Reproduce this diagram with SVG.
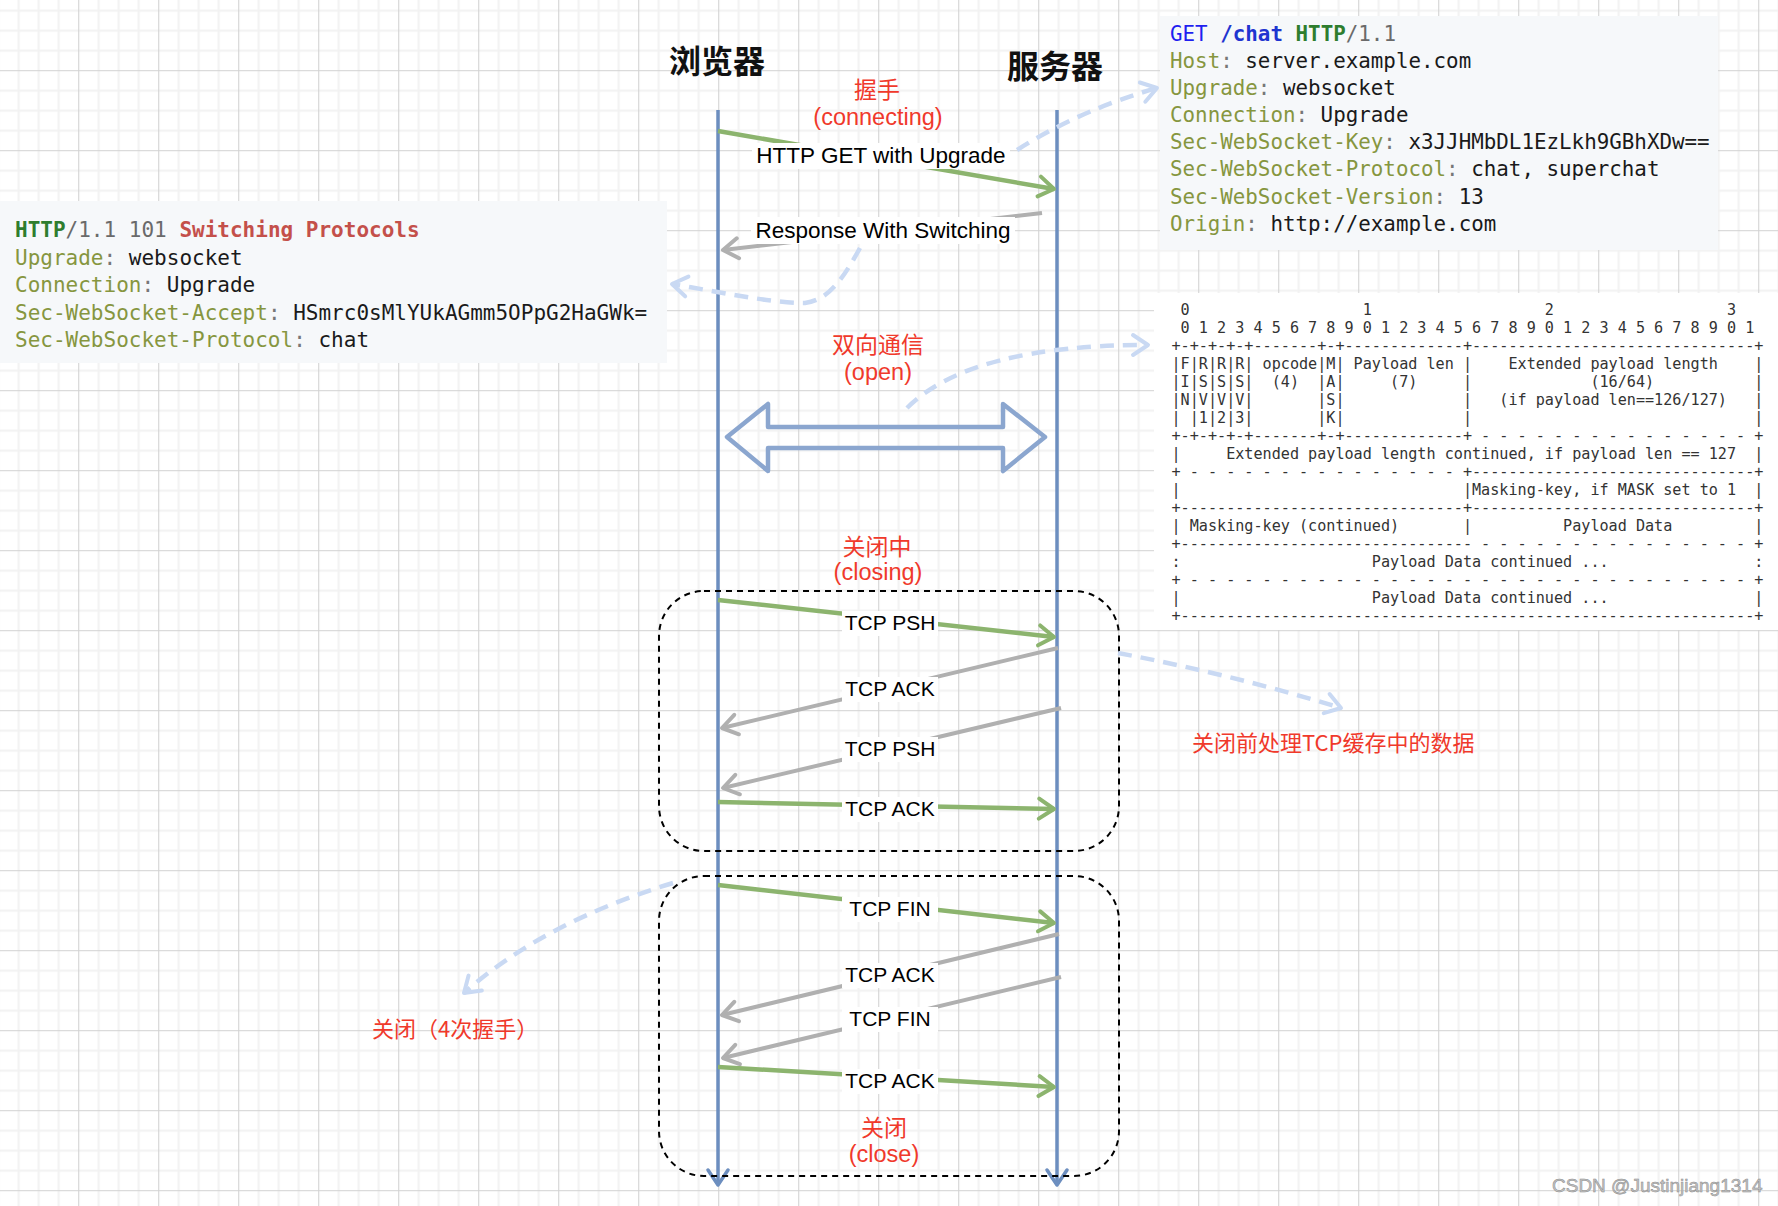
<svg xmlns="http://www.w3.org/2000/svg" width="1778" height="1206" viewBox="0 0 1778 1206">
<defs>
<pattern id="grid" patternUnits="userSpaceOnUse" x="-1.8" y="-9.8" width="80" height="80">
<path d="M20.5,0V80M40.5,0V80M60.5,0V80M0,20.5H80M0,40.5H80M0,60.5H80" stroke="#f2f2f2" stroke-width="2" fill="none"/>
<path d="M0.5,0V80M0,0.5H80" stroke="#d2d2d2" stroke-width="1.2" fill="none"/>
</pattern>
<marker id="mGreen" markerUnits="userSpaceOnUse" markerWidth="24" markerHeight="24" viewBox="-20 -12 24 24" refX="0" refY="0" orient="auto" overflow="visible">
<path d="M-15,-10 L0,0 L-15,10" fill="none" stroke="#8cb46e" stroke-width="4" stroke-linecap="round" stroke-linejoin="round"/>
</marker>
<marker id="mGray" markerUnits="userSpaceOnUse" markerWidth="24" markerHeight="24" viewBox="-20 -12 24 24" refX="0" refY="0" orient="auto" overflow="visible">
<path d="M-15,-10 L0,0 L-15,10" fill="none" stroke="#b0b0b0" stroke-width="4" stroke-linecap="round" stroke-linejoin="round"/>
</marker>
<marker id="mBlue" markerUnits="userSpaceOnUse" markerWidth="24" markerHeight="24" viewBox="-20 -12 24 24" refX="0" refY="0" orient="auto" overflow="visible">
<path d="M-15,-10 L0,0 L-15,10" fill="none" stroke="#6c8ebf" stroke-width="3.5" stroke-linecap="round" stroke-linejoin="round"/>
</marker>
<marker id="mDash" markerUnits="userSpaceOnUse" markerWidth="24" markerHeight="24" viewBox="-20 -12 24 24" refX="0" refY="0" orient="auto" overflow="visible">
<path d="M-15,-10 L0,0 L-15,10" fill="none" stroke="#c9d9f3" stroke-width="4" stroke-linecap="round" stroke-linejoin="round"/>
</marker>
</defs>
<style>
.title{font-family:"Noto Sans CJK SC",sans-serif;font-size:32px;font-weight:700;fill:#111}
.red{font-family:"Noto Sans CJK SC",sans-serif;font-size:23px;fill:#f0392b;text-anchor:middle}
.redl{font-family:"Liberation Sans",Arial,sans-serif;font-size:23.5px;fill:#f0392b;text-anchor:middle}
.lbl{font-family:"Liberation Sans",Arial,sans-serif;font-size:21px;fill:#000;text-anchor:middle}
.lblw{font-family:"Liberation Sans",Arial,sans-serif;font-size:22.5px;fill:#000;text-anchor:middle}
.lbg{fill:#fff}
.code{font-family:"DejaVu Sans Mono","Liberation Mono",monospace;font-size:20.85px;fill:#1a1a1a}
.code2{font-family:"DejaVu Sans Mono","Liberation Mono",monospace;font-size:21px;fill:#1a1a1a}
.tbl{font-family:"DejaVu Sans Mono","Liberation Mono",monospace;font-size:15.13px;fill:#333}
.k{fill:#86963f}
.c{fill:#777}
.g{fill:#6a6a6a}
.life{stroke:#6c8ebf;stroke-width:3.5;fill:none}
.msgG{stroke:#8cb46e;stroke-width:4.5;fill:none;marker-end:url(#mGreen)}
.msgY{stroke:#b0b0b0;stroke-width:4;fill:none;marker-end:url(#mGray)}
.dash{stroke:#c9d9f3;stroke-width:4.5;fill:none;stroke-dasharray:14 9;marker-end:url(#mDash)}
.box{fill:none;stroke:#000;stroke-width:2;stroke-dasharray:6 5}
</style>
<rect width="1778" height="1206" fill="#fff"/>
<rect width="1778" height="1206" fill="url(#grid)"/>

<g id="request-block">
<rect x="1160" y="16" width="558" height="234" fill="#f6f8fa"/>
<text class="code" x="1170" y="40.7" xml:space="preserve"><tspan fill="#1f1ff0">GET</tspan> <tspan fill="#1f35d0" font-weight="bold">/chat</tspan> <tspan fill="#2e7d2e" font-weight="bold">HTTP</tspan><tspan class="g">/1.1</tspan></text>
<text class="code" x="1170" y="67.8" xml:space="preserve"><tspan class="k">Host</tspan><tspan class="c">:</tspan> server.example.com</text>
<text class="code" x="1170" y="95" xml:space="preserve"><tspan class="k">Upgrade</tspan><tspan class="c">:</tspan> websocket</text>
<text class="code" x="1170" y="122.1" xml:space="preserve"><tspan class="k">Connection</tspan><tspan class="c">:</tspan> Upgrade</text>
<text class="code" x="1170" y="149.3" xml:space="preserve"><tspan class="k">Sec-WebSocket-Key</tspan><tspan class="c">:</tspan> x3JJHMbDL1EzLkh9GBhXDw==</text>
<text class="code" x="1170" y="176.4" xml:space="preserve"><tspan class="k">Sec-WebSocket-Protocol</tspan><tspan class="c">:</tspan> chat, superchat</text>
<text class="code" x="1170" y="203.5" xml:space="preserve"><tspan class="k">Sec-WebSocket-Version</tspan><tspan class="c">:</tspan> 13</text>
<text class="code" x="1170" y="230.7" xml:space="preserve"><tspan class="k">Origin</tspan><tspan class="c">:</tspan> http://example.com</text>
</g>

<g id="response-block">
<rect x="0" y="201" width="667" height="162" fill="#f6f8fa"/>
<text class="code2" x="15" y="237.3" xml:space="preserve"><tspan fill="#2e7d2e" font-weight="bold">HTTP</tspan><tspan class="g">/1.1 101</tspan> <tspan fill="#c4504a" font-weight="bold">Switching Protocols</tspan></text>
<text class="code2" x="15" y="264.8" xml:space="preserve"><tspan class="k">Upgrade</tspan><tspan class="c">:</tspan> websocket</text>
<text class="code2" x="15" y="292.3" xml:space="preserve"><tspan class="k">Connection</tspan><tspan class="c">:</tspan> Upgrade</text>
<text class="code2" x="15" y="319.8" xml:space="preserve"><tspan class="k">Sec-WebSocket-Accept</tspan><tspan class="c">:</tspan> HSmrc0sMlYUkAGmm5OPpG2HaGWk=</text>
<text class="code2" x="15" y="347.3" xml:space="preserve"><tspan class="k">Sec-WebSocket-Protocol</tspan><tspan class="c">:</tspan> chat</text>
</g>

<g id="frame-table">
<rect x="1154" y="293" width="624" height="337" fill="#fff"/>
<text class="tbl" x="1171.5" y="315" xml:space="preserve"> 0                   1                   2                   3</text>
<text class="tbl" x="1171.5" y="333" xml:space="preserve"> 0 1 2 3 4 5 6 7 8 9 0 1 2 3 4 5 6 7 8 9 0 1 2 3 4 5 6 7 8 9 0 1</text>
<text class="tbl" x="1171.5" y="351" xml:space="preserve">+-+-+-+-+-------+-+-------------+-------------------------------+</text>
<text class="tbl" x="1171.5" y="369" xml:space="preserve">|F|R|R|R| opcode|M| Payload len |    Extended payload length    |</text>
<text class="tbl" x="1171.5" y="387" xml:space="preserve">|I|S|S|S|  (4)  |A|     (7)     |             (16/64)           |</text>
<text class="tbl" x="1171.5" y="405" xml:space="preserve">|N|V|V|V|       |S|             |   (if payload len==126/127)   |</text>
<text class="tbl" x="1171.5" y="423" xml:space="preserve">| |1|2|3|       |K|             |                               |</text>
<text class="tbl" x="1171.5" y="441" xml:space="preserve">+-+-+-+-+-------+-+-------------+ - - - - - - - - - - - - - - - +</text>
<text class="tbl" x="1171.5" y="459" xml:space="preserve">|     Extended payload length continued, if payload len == 127  |</text>
<text class="tbl" x="1171.5" y="477" xml:space="preserve">+ - - - - - - - - - - - - - - - +-------------------------------+</text>
<text class="tbl" x="1171.5" y="495" xml:space="preserve">|                               |Masking-key, if MASK set to 1  |</text>
<text class="tbl" x="1171.5" y="513" xml:space="preserve">+-------------------------------+-------------------------------+</text>
<text class="tbl" x="1171.5" y="531" xml:space="preserve">| Masking-key (continued)       |          Payload Data         |</text>
<text class="tbl" x="1171.5" y="549" xml:space="preserve">+-------------------------------- - - - - - - - - - - - - - - - +</text>
<text class="tbl" x="1171.5" y="567" xml:space="preserve">:                     Payload Data continued ...                :</text>
<text class="tbl" x="1171.5" y="585" xml:space="preserve">+ - - - - - - - - - - - - - - - - - - - - - - - - - - - - - - - +</text>
<text class="tbl" x="1171.5" y="603" xml:space="preserve">|                     Payload Data continued ...                |</text>
<text class="tbl" x="1171.5" y="621" xml:space="preserve">+---------------------------------------------------------------+</text>
</g>

<g id="browser">
<text class="title" x="669" y="73">浏览器</text>
<line class="life" x1="718" y1="110" x2="718" y2="1185" style="marker-end:url(#mBlue)"/>
</g>
<g id="server">
<text class="title" x="1007" y="78">服务器</text>
<line class="life" x1="1057" y1="110" x2="1057" y2="1185" style="marker-end:url(#mBlue)"/>
</g>

<g id="closing-box"><rect class="box" x="659" y="591" width="460" height="260" rx="45" ry="45"/></g>
<g id="close-box"><rect class="box" x="659" y="876" width="460" height="300" rx="45" ry="45"/></g>

<g id="open-arrow">
<polygon points="727,437 768,404 768,427 1003,427 1003,404 1045,437 1003,471 1003,448 768,448 768,471" fill="none" stroke="#8ba6cf" stroke-width="4.5" stroke-linejoin="round"/>
</g>

<g id="state-labels">
<text class="red" x="877" y="98">握手</text>
<text class="redl" x="878" y="125">(connecting)</text>
<text class="red" x="878" y="353">双向通信</text>
<text class="redl" x="878" y="380">(open)</text>
<text class="red" x="877" y="555">关闭中</text>
<text class="redl" x="878" y="580">(closing)</text>
<text class="red" x="884" y="1136">关闭</text>
<text class="redl" x="884" y="1162">(close)</text>
</g>

<g id="note-close-buffer"><text class="red" x="1192" y="751" style="text-anchor:start;font-size:22px">关闭前处理TCP缓存中的数据</text></g>
<g id="note-close-4way"><text class="red" x="372" y="1037" style="text-anchor:start;font-size:22px">关闭（4次握手）</text></g>

<g id="connectors">
<path class="dash" d="M1017,150 Q1080,110 1157,88"/>
<path class="dash" d="M860,248 C845,275 830,300 805,303 C770,303 720,292 672,284"/>
<path class="dash" d="M907,408 Q970,345 1148,345"/>
<path class="dash" d="M1118,653 Q1230,674 1341,708"/>
<path class="dash" d="M673,883 Q544,922 464,993"/>

<line class="msgG" x1="718" y1="131" x2="1054" y2="189"/>
<line class="msgY" x1="1042" y1="213" x2="723" y2="250"/>
<line class="msgG" x1="718" y1="600" x2="1054" y2="637"/>
<line class="msgY" x1="1058" y1="648" x2="722" y2="728"/>
<line class="msgY" x1="1061" y1="708" x2="723" y2="788"/>
<line class="msgG" x1="718" y1="802" x2="1054" y2="809"/>
<line class="msgG" x1="718" y1="885" x2="1054" y2="923"/>
<line class="msgY" x1="1059" y1="934" x2="722" y2="1015"/>
<line class="msgY" x1="1061" y1="977" x2="723" y2="1058"/>
<line class="msgG" x1="718" y1="1067" x2="1054" y2="1087"/>

<rect class="lbg" x="752" y="143" width="258" height="26"/>
<text class="lblw" x="881" y="163">HTTP GET with Upgrade</text>
<rect class="lbg" x="751" y="217" width="264" height="27"/>
<text class="lblw" x="883" y="238">Response With Switching</text>
<rect class="lbg" x="842" y="611" width="96" height="25"/>
<text class="lbl" x="890" y="630">TCP PSH</text>
<rect class="lbg" x="842" y="677" width="96" height="25"/>
<text class="lbl" x="890" y="696">TCP ACK</text>
<rect class="lbg" x="842" y="737" width="96" height="25"/>
<text class="lbl" x="890" y="756">TCP PSH</text>
<rect class="lbg" x="842" y="797" width="96" height="25"/>
<text class="lbl" x="890" y="816">TCP ACK</text>
<rect class="lbg" x="842" y="897" width="96" height="25"/>
<text class="lbl" x="890" y="916">TCP FIN</text>
<rect class="lbg" x="842" y="963" width="96" height="25"/>
<text class="lbl" x="890" y="982">TCP ACK</text>
<rect class="lbg" x="842" y="1007" width="96" height="25"/>
<text class="lbl" x="890" y="1026">TCP FIN</text>
<rect class="lbg" x="842" y="1069" width="96" height="25"/>
<text class="lbl" x="890" y="1088">TCP ACK</text>
</g>

<g id="watermark"><text x="1552" y="1192" font-family="Liberation Sans, Arial, sans-serif" font-size="19" fill="#c4c4c4" stroke="#8a8a8a" stroke-width="0.5">CSDN @Justinjiang1314</text></g>
</svg>
